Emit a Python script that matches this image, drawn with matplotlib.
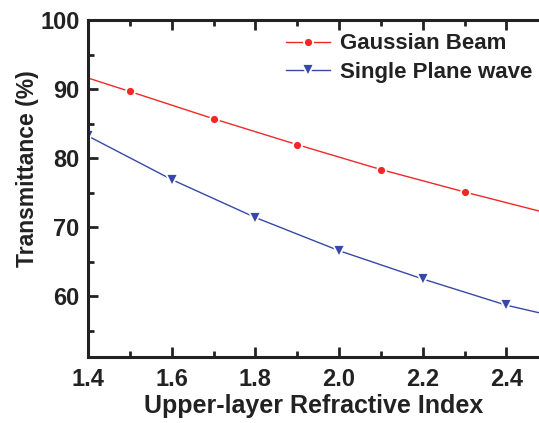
import matplotlib
matplotlib.use('Agg')
import matplotlib.pyplot as plt
from matplotlib.ticker import MultipleLocator

# values
gauss_x = [1.4, 1.5, 1.7, 1.9, 2.1, 2.3, 2.5]
gauss_y = [91.6, 89.65, 85.7, 81.95, 78.35, 75.1, 72.0]
plane_x = [1.4, 1.6, 1.8, 2.0, 2.2, 2.4, 2.5]
plane_y = [83.2, 76.9, 71.4, 66.6, 62.5, 58.7, 57.3]

plt.rcParams['font.family'] = 'Liberation Sans'
plt.rcParams['font.weight'] = 'bold'

fig = plt.figure(figsize=(5.39, 4.23), dpi=100)
ax = fig.add_axes([88/539, 1-357/423, 1-88/539, (357-20)/423])

ax.plot(gauss_x, gauss_y, color='#f02828', lw=1.0, marker='o', ms=6.5,
        markevery=[1, 2, 3, 4, 5], mec='white', mew=1.3, label='Gaussian Beam')
ax.plot(plane_x, plane_y, color='#3848a8', lw=1.0, marker='v', ms=8.5,
        markevery=[0, 1, 2, 3, 4, 5], mec='white', mew=1.3, label='Single Plane wave')

ax.set_xlim(1.4, 2.478)
ax.set_ylim(51.2, 100)
ax.xaxis.set_major_locator(MultipleLocator(0.2))
ax.xaxis.set_minor_locator(MultipleLocator(0.1))
ax.yaxis.set_major_locator(MultipleLocator(10))
ax.yaxis.set_minor_locator(MultipleLocator(5))
ax.tick_params(which='both', direction='in', top=True, right=False, width=2,
               labelsize=17, colors='#222222')
ax.tick_params(axis='x', pad=8)
ax.tick_params(axis='y', pad=6)
ax.tick_params(which='major', length=7)
ax.tick_params(which='minor', length=4)
for s in ['left', 'bottom', 'top']:
    ax.spines[s].set_linewidth(2.2)
    ax.spines[s].set_color('#222222')
ax.spines['right'].set_visible(False)

ax.set_xlabel('Upper-layer Refractive Index', fontsize=18, fontweight='bold',
              color='#222222', labelpad=2)
ax.set_ylabel('Transmittance (%)', fontsize=16.5, fontweight='bold',
              color='#222222', labelpad=1)
ax.yaxis.label.set_y(0.56)

leg = ax.legend(loc='upper right', bbox_to_anchor=(1.015, 1.0), frameon=False,
                fontsize=16, handlelength=2.0, handletextpad=0.45,
                labelspacing=0.35, borderaxespad=0.2)
for t in leg.get_texts():
    t.set_color('#222222')

fig.savefig('out.png', dpi=100)
